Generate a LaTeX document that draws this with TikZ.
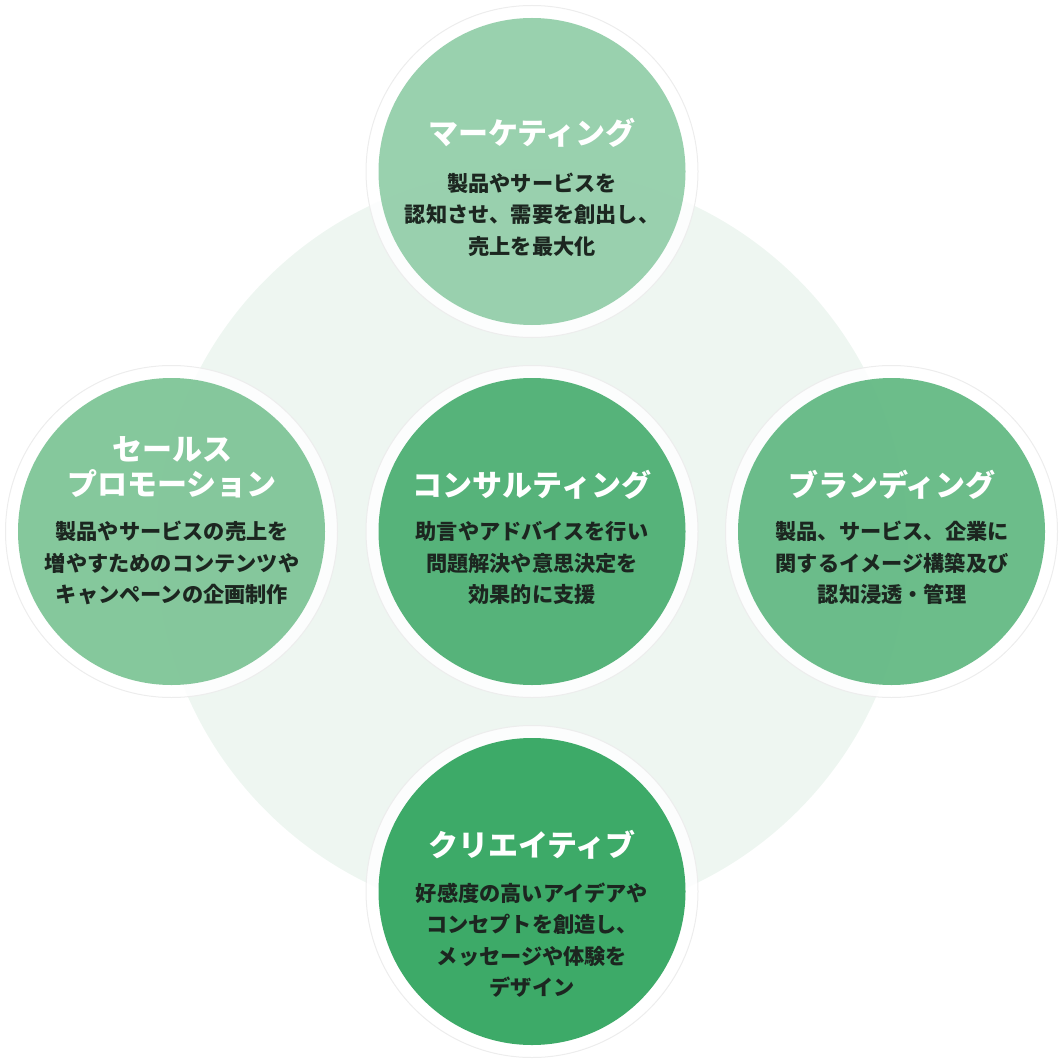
\documentclass[tikz,border=0pt]{standalone}
\usepackage{fontspec}
\setmainfont{Noto Sans CJK JP}
\definecolor{bgc}{HTML}{EEF6F1}
\definecolor{cTop}{RGB}{143,204,166}
\definecolor{cLeft}{RGB}{121,194,146}
\definecolor{cMid}{RGB}{68,172,108}
\definecolor{cRight}{RGB}{92,182,126}
\definecolor{cBot}{RGB}{41,161,88}
\definecolor{bodytxt}{HTML}{1C2620}
\begin{document}
\begin{tikzpicture}[x=1pt,y=-1pt,
  ring/.style={circle, minimum size=332pt, inner sep=0pt, fill=white, fill opacity=0.88, draw=black!7, line width=1pt},
  disc/.style={circle, minimum size=307pt, inner sep=0pt, fill opacity=0.9, draw=none},
  ttl/.style={text=white, font=\fontsize{30}{35}\selectfont\bfseries, align=center, inner sep=0pt, text opacity=1},
  bdy/.style={text=bodytxt, font=\fontsize{21.2}{31.5}\selectfont\bfseries, align=center, inner sep=0pt}]
\useasboundingbox (0,0) rectangle (1064,1064);
\fill[bgc] (532,545) circle (376pt);
% rings
\node[ring] (rT) at (532,171.5) {};
\node[ring] (rL) at (171.5,531.5) {};
\node[ring] (rM) at (532,531.5) {};
\node[ring] (rR) at (891.5,531.5) {};
\node[ring] (rB) at (532,891.5) {};
% discs
\node[disc, fill=cTop] (dT) at (rT.center) {};
\node[disc, fill=cLeft] (dL) at (rL.center) {};
\node[disc, fill=cMid] (dM) at (rM.center) {};
\node[disc, fill=cRight] (dR) at (rR.center) {};
\node[disc, fill=cBot] (dB) at (rB.center) {};
% titles
\node[ttl] (tT) at (532,133) {マーケティング};
\node[ttl] (tL) at (172,467.5) {セールス\\プロモーション};
\node[ttl] (tM) at (532,485) {コンサルティング};
\node[ttl] (tR) at (892,485) {ブランディング};
\node[ttl] (tB) at (532,845) {クリエイティブ};
% bodies
\node[bdy] (bT) at (532,214.5) {製品やサービスを\\認知させ、需要を創出し、\\売上を最大化};
\node[bdy] (bL) at (172,563) {製品やサービスの売上を\\増やすためのコンテンツや\\キャンペーンの企画制作};
\node[bdy] (bM) at (532,563) {助言やアドバイスを行い\\問題解決や意思決定を\\効果的に支援};
\node[bdy] (bR) at (892,563) {製品、サービス、企業に\\関するイメージ構築及び\\認知浸透・管理};
\node[bdy] (bB) at (532,940) {好感度の高いアイデアや\\コンセプトを創造し、\\メッセージや体験を\\デザイン};
\end{tikzpicture}
\end{document}
